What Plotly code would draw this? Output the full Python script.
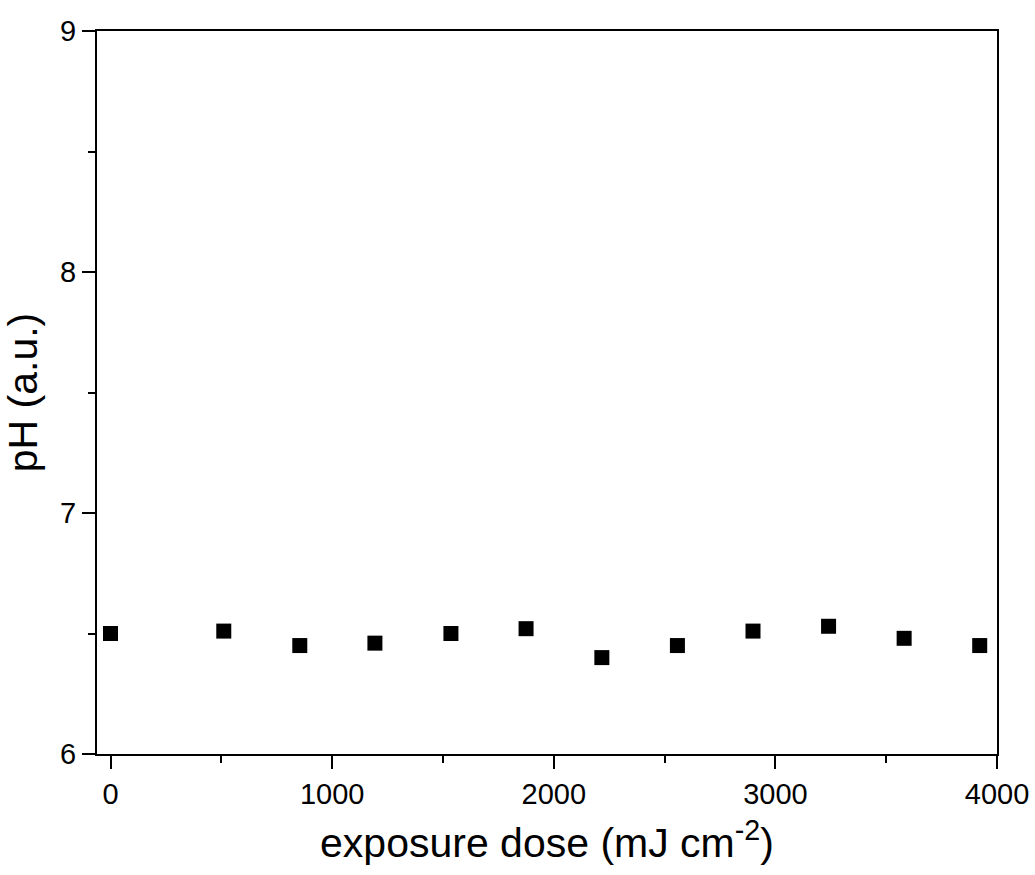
import plotly.graph_objects as go

dose = [0, 511, 854, 1193, 1536, 1875, 2217, 2558, 2899, 3240, 3581, 3922]
ph = [6.50, 6.51, 6.45, 6.46, 6.50, 6.52, 6.40, 6.45, 6.51, 6.53, 6.48, 6.45]

x_ticks = [0, 1000, 2000, 3000, 4000]
y_ticks = [6, 7, 8, 9]

fig = go.Figure()
fig.add_trace(go.Scatter(
    x=dose, y=ph, mode="markers",
    marker=dict(symbol="square", size=15, color="black", line=dict(width=0)),
    showlegend=False,
))

font_family = "Liberation Sans, Arial, sans-serif"
axis_common = dict(
    showline=True, linecolor="black", linewidth=2, mirror=True,
    ticks="outside", ticklen=13, tickwidth=2, tickcolor="black",
    showgrid=False, zeroline=False, automargin=False,
    tickfont=dict(family=font_family, size=29, color="black"),
    minor=dict(ticks="outside", ticklen=7, tickwidth=2, tickcolor="black"),
)

fig.update_xaxes(
    range=[-61, 4000], tickvals=x_ticks,
    minor_dtick=500,
    title=dict(text="exposure dose (mJ cm<sup>-2</sup>)", font=dict(family=font_family, size=41, color="black"), standoff=20),
    **axis_common,
)
fig.update_yaxes(
    range=[6, 9], tickvals=y_ticks,
    minor_dtick=0.5,
    title=dict(text="pH (a.u.)", font=dict(family=font_family, size=41, color="black"), standoff=12),
    **axis_common,
)

fig.update_layout(
    width=1035, height=875,
    margin=dict(l=97, r=38, t=31, b=121),
    plot_bgcolor="white", paper_bgcolor="white",
)

fig.write_html("out.html")
